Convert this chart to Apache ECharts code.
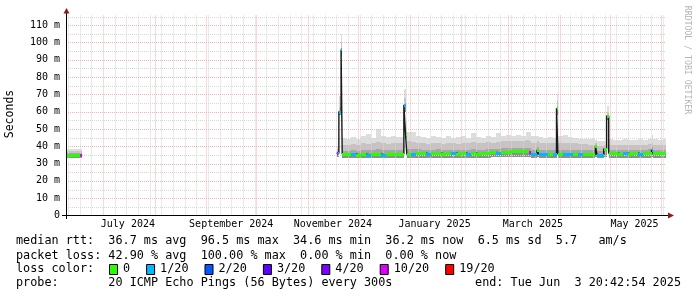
<!DOCTYPE html>
<html><head><meta charset="utf-8">
<script src="https://cdn.jsdelivr.net/npm/echarts@6/dist/echarts.min.js"></script>
<style>html,body{margin:0;padding:0;background:#fff}#c{width:697px;height:297px}</style>
</head><body><div id="c"></div>
<script>
// ---- data ----
const xStart = '2024-06-08 20:42:54';
const xEnd   = '2025-06-03 20:42:54';
const times = [
 '2024-06-09 08','2024-06-12 00','2024-06-15 00','2024-06-17 08','2024-06-18 12',
 '2024-11-18 06','2024-11-18 20','2024-11-19 14','2024-11-20 22','2024-11-21 14',
 '2024-11-24 00','2024-11-27 00','2024-11-30 00','2024-12-03 00','2024-12-06 00',
 '2024-12-09 00','2024-12-12 00','2024-12-15 00','2024-12-18 00','2024-12-21 00',
 '2024-12-24 00','2024-12-28 14','2024-12-29 14','2024-12-30 08','2025-01-02 00',
 '2025-01-05 00','2025-01-08 00','2025-01-11 00','2025-01-14 00','2025-01-17 00',
 '2025-01-20 00','2025-01-23 00','2025-01-26 00','2025-01-29 00','2025-02-01 00',
 '2025-02-04 00','2025-02-07 00','2025-02-10 00','2025-02-13 00','2025-02-16 00',
 '2025-02-19 00','2025-02-22 00','2025-02-25 00','2025-02-28 00','2025-03-03 00',
 '2025-03-06 00','2025-03-09 00','2025-03-12 00','2025-03-13 20','2025-03-15 00',
 '2025-03-18 12','2025-03-19 12','2025-03-22 00','2025-03-25 00','2025-03-28 00',
 '2025-03-30 04','2025-03-31 00','2025-04-03 00','2025-04-06 00','2025-04-09 00',
 '2025-04-12 00','2025-04-15 00','2025-04-18 00','2025-04-22 12','2025-04-23 12',
 '2025-04-27 12','2025-04-29 06','2025-04-30 12','2025-05-03 00','2025-05-06 00',
 '2025-05-09 00','2025-05-12 00','2025-05-15 00','2025-05-18 00','2025-05-21 00',
 '2025-05-24 00','2025-05-26 04','2025-05-27 06','2025-05-30 00','2025-06-02 00',
 '2025-06-03 20'
];
const median = [
 35,35,35,35,null,
 36,36,60,96,35.5,
 35.5,35.5,35,35.5,35,
 35.5,35.5,35,35.5,35.5,
 35.5,64,47,35.5,35.5,
 36,36,35.5,36,36,
 35.5,36,36,35.5,36,
 35.5,36,35.5,36,36,
 36.5,36,36.5,36.5,37,
 37,37,37,36.5,35.5,
 38,35.5,35.5,35.5,35.5,
 62,35.5,35.5,35.5,35.5,
 35.5,35.5,35.5,40,35,
 38.5,57.5,36,36,35.5,
 36,35.5,36,35.5,36,
 36,38,36,36,36,
 null
];
const lossIdx = [
 0,0,0,5,null,
 5,1,1,1,0,
 0,1,0,0,1,
 0,0,1,0,0,
 0,1,0,0,1,
 0,0,1,0,0,
 0,0,1,0,0,
 1,0,0,0,0,
 0,1,0,0,0,
 0,0,0,5,1,
 0,1,1,0,1,
 0,0,1,1,0,
 1,0,0,0,1,
 0,0,0,0,0,
 1,0,0,1,0,
 0,1,0,0,0,
 null
];
const smokeLo = [
 33.5,33.5,33.5,33.5,null,
 34,34,58,92,33.5,
 33.5,33.5,33.5,33.5,33.5,
 33.5,33.5,33.5,33.5,33.5,
 33.5,60,44,33.5,33.5,
 33.5,33.5,33.5,33.5,33.5,
 33.5,33.5,33.5,33.5,33.5,
 33.5,33.5,33.5,33.5,33.5,
 34,34,34,34,34,
 34,34,34,34,33.5,
 34,33.5,33.5,33.5,33.5,
 58,33.5,33.5,33.5,33.5,
 33.5,33.5,33.5,34,33.5,
 34,55,33.5,33.5,33.5,
 33.5,33.5,33.5,33.5,33.5,
 33.5,34,33.5,33.5,33.5,
 null
];
const smokeIn = [
 36.2,36.2,36.2,36.2,null,
 37,37.5,60.5,97,37.5,
 37.5,38,37.5,38,38,
 38,38.5,38,38,38,
 38,65,48,38.5,38.5,
 38.5,38,38,38,38.5,
 38,38,38,38,38,
 38,38.5,38,38,38.5,
 38.5,38.5,39,39,39,
 39,39,39,39,38,
 39.5,38,38,38,38,
 63,38,38,38,38,
 38,38,38,40.5,37.5,
 39,58,38,38,38,
 38,38,38,38,38,
 38.5,40,38,38,38,
 null
];
const smokeMid = [
 37.3,37.3,37.3,37.3,null,
 38.5,40,63,100,41,
 41,41.5,41,42,41.5,
 42,42.5,42,41.5,42,
 42,68,51,43,42.5,
 42,42,41.5,42,42,
 41.5,42,42,41.5,42,
 42,42.5,42,42,42.5,
 42,42.5,43,43,43,
 43,43,43.5,43,42,
 43,42,42,42,42,
 66,42,42,42,42,
 41.5,41.5,41,42,40,
 41,60,41,41,41,
 41,41,41,41,41,
 41.5,42,41,41,41,
 null
];
const smokeHi = [
 38.2,38.2,38.4,38.2,null,
 40,45,69,105,45,
 44.5,45.5,44.5,46,47,
 45,50,46,45.5,46,
 45.5,73,55,48.5,48,
 46,45.5,45,46,45.5,
 45,46,45,45.5,46,
 45,47.5,45.5,45,46,
 45.5,47.5,46,46.5,46,
 46.5,46,48,48.5,46,
 46,45.5,45,45.5,45,
 70,46,46.5,45.5,45,
 44.5,44,44,43.5,43,
 43,63.5,44,43.5,43.5,
 44,43.5,43.5,44,43.5,
 44.5,46.5,44,43.5,44,
 null
];
const lossColors = ['#26ff00','#00b8ff','#0059ff','#5e00ff','#7e00ff','#dd00ff','#ff0000'];
const lossLabels = ['0','1/20','2/20','3/20','4/20','10/20','19/20'];
const monthLabelDates = ['2024-07-16','2024-09-16','2024-11-16','2025-01-16','2025-03-16','2025-05-16'];
const monthNames = ['January','February','March','April','May','June','July','August','September','October','November','December'];
const yMax = 115.6;
const statLine1 = 'median rtt:  36.7 ms avg  96.5 ms max  34.6 ms min  36.2 ms now  6.5 ms sd  5.7   am/s';
const statLine2 = 'packet loss: 42.90 % avg  100.00 % max  0.00 % min  0.00 % now';
const lossTitle = 'loss color:';
const probeLine = 'probe:       20 ICMP Echo Pings (56 Bytes) every 300s';
const endLine = 'end: Tue Jun  3 20:42:54 2025';
const yTitle = 'Seconds';
const watermark = 'RRDTOOL / TOBI OETIKER';

// ---- helpers ----
function ts(s){
  const m = s.match(/(\d+)-(\d+)-(\d+)(?: (\d+)(?::(\d+))?(?::(\d+))?)?/);
  return Date.UTC(+m[1], +m[2]-1, +m[3], +(m[4]||0), +(m[5]||0), +(m[6]||0));
}
const MONO = 'DejaVu Sans Mono';
const xMin = ts(xStart), xMax = ts(xEnd);

const rows = [];
for (let i = 0; i < times.length - 1; i++) {
  if (median[i] == null) continue;
  rows.push([ts(times[i]), ts(times[i+1]), smokeLo[i], smokeIn[i], smokeMid[i], smokeHi[i], median[i], lossIdx[i]]);
}
const lineData = times.map((t,i) => [ts(t), median[i] == null ? '-' : median[i]]);

// grid positions (calendar based)
const gridRows = [];
for (let y = 2024, m = 6; ; m++) {
  if (m > 11) { m = 0; y++; }
  gridRows.push([Date.UTC(y, m, 1), 0, 0]);
  if (y === 2025 && m === 5) break;
}
for (let d = Date.UTC(2024,5,10); d < xMax; d += 7*86400000) {
  if (new Date(d).getUTCDate() !== 1) gridRows.push([d, 0, 1]);
}
for (let v = 5; v <= 115; v += 5) gridRows.push([xMin, v, v % 10 === 0 ? 2 : 3]);

const chart = echarts.init(document.getElementById('c'), null, {renderer:'canvas'});

// legend graphics
const graphics = [];
const txt = (x, y, s, extra) => Object.assign({type:'text', x, y, silent:true,
  style: Object.assign({text:s, font:'11.8px "DejaVu Sans Mono"', fill:'#000', textVerticalAlign:'middle'}, extra||{})});
graphics.push(txt(16, 241, statLine1));
graphics.push(txt(16, 256, statLine2));
graphics.push(txt(16, 269, lossTitle));
graphics.push(txt(16, 283, probeLine));
graphics.push(txt(681, 283, endLine, {textAlign:'right'}));
let bx = 109;
const cw = 7.1;
lossLabels.forEach((lab, i) => {
  graphics.push({type:'rect', silent:true, shape:{x:bx+0.5, y:264.5, width:8, height:10},
    style:{fill:lossColors[i], stroke:'#000', lineWidth:1}});
  graphics.push(txt(bx+14, 269, lab));
  bx = bx + 14 + lab.length*cw + 16;
});
graphics.push({type:'text', silent:true, x:10, y:114, rotation:Math.PI/2,
  style:{text:yTitle, font:'11.5px "DejaVu Sans Mono"', fill:'#000', textAlign:'center', textVerticalAlign:'middle'}});
graphics.push({type:'text', silent:true, x:687, y:60, rotation:-Math.PI/2,
  style:{text:watermark, font:'8.2px "DejaVu Sans Mono"', fill:'#b4b4b4', textAlign:'center', textVerticalAlign:'middle'}});
// axis lines + arrows
graphics.push({type:'line', silent:true, shape:{x1:66.5,y1:12,x2:66.5,y2:219}, style:{stroke:'#000', lineWidth:1}, z:50});
graphics.push({type:'line', silent:true, shape:{x1:62,y1:215.5,x2:669,y2:215.5}, style:{stroke:'#000', lineWidth:1}, z:50});
graphics.push({type:'polygon', silent:true, shape:{points:[[63.5,13.5],[69.5,13.5],[66.5,8]]}, style:{fill:'#8b1a1a'}, z:51});
graphics.push({type:'polygon', silent:true, shape:{points:[[668,212.5],[668,218.5],[674,215.5]]}, style:{fill:'#8b1a1a'}, z:51});

const option = {
  animation: false,
  backgroundColor: '#fff',
  grid: {left: 66, top: 15.5, width: 600, height: 200, containLabel: false},
  xAxis: {
    type: 'value', min: xMin, max: xMax, scale: true,
    axisLine: {show:false}, axisTick: {show:false}, splitLine: {show:false},
    axisLabel: {
      customValues: monthLabelDates.map(ts),
      formatter: v => { const d = new Date(v); return monthNames[d.getUTCMonth()] + ' ' + d.getUTCFullYear(); },
      fontFamily: MONO, fontSize: 10, color: '#000', margin: 4, hideOverlap: false
    }
  },
  yAxis: {
    type: 'value', min: 0, max: yMax, interval: 10,
    axisLine: {show:false}, axisTick: {show:false}, splitLine: {show:false},
    axisLabel: {
      formatter: v => v === 0 ? '0' : (Math.abs(v % 10) < 1e-6 ? v + ' m' : ''),
      fontFamily: MONO, fontSize: 10, color: '#000', margin: 6
    }
  },
  graphic: graphics,
  series: [
    {
      type: 'custom', coordinateSystem: 'cartesian2d', z: 1, silent: true,
      data: rows, encode: {x: [0,1], y: [2,5]},
      renderItem: (p, api) => {
        const x0 = Math.round(api.coord([api.value(0), 0])[0]);
        const x1 = Math.round(api.coord([api.value(1), 0])[0]);
        const Y = k => Math.round(api.coord([api.value(0), api.value(k)])[1]);
        const lo = Y(2), inn = Y(3), mid = Y(4), hi = Y(5), med = Y(6);
        const w = Math.max(1, x1 - x0);
        return {type:'group', children:[
          {type:'rect', shape:{x:x0, y:hi, width:w, height:lo-hi}, style:{fill:'#dddddd'}},
          {type:'rect', shape:{x:x0, y:mid, width:w, height:med-mid}, style:{fill:'#c4c4c4'}},
          {type:'rect', shape:{x:x0, y:inn, width:w, height:med-inn}, style:{fill:'#a6a6a6'}},
          {type:'rect', shape:{x:x0, y:med, width:w, height:lo-med}, style:{fill:'#8e8e8e'}}
        ]};
      }
    },
    {
      type: 'custom', coordinateSystem: 'cartesian2d', z: 2, silent: true,
      data: gridRows, encode: {x: 0, y: 1},
      renderItem: (p, api) => {
        const cs = p.coordSys;
        const kind = api.value(2);
        const dash = [1, 1];
        if (kind < 2) {
          const x = Math.round(api.coord([api.value(0), 0])[0]) + 0.5;
          return {type:'line', shape:{x1:x, y1:cs.y, x2:x, y2:cs.y+cs.height},
            style:{stroke: kind === 0 ? '#f0b4b4' : '#d6d6d6', lineWidth:1, lineDash:dash}};
        }
        const y = Math.round(api.coord([xMin, api.value(1)])[1]) + 0.5;
        return {type:'line', shape:{x1:cs.x, y1:y, x2:cs.x+cs.width, y2:y},
          style:{stroke: kind === 2 ? '#f0b4b4' : '#d6d6d6', lineWidth:1, lineDash:dash}};
      }
    },
    {
      type: 'line', z: 3, silent: true, data: lineData, step: 'end', showSymbol: false,
      connectNulls: false, lineStyle: {color: '#1a1a1a', width: 1.4}
    },
    {
      type: 'custom', coordinateSystem: 'cartesian2d', z: 4, silent: true,
      data: rows.map(r => [r[0], r[1], r[6], r[7]]), encode: {x: [0,1], y: 2},
      renderItem: (p, api) => {
        const x0 = Math.round(api.coord([api.value(0), 0])[0]);
        const x1 = Math.round(api.coord([api.value(1), 0])[0]);
        const y = Math.round(api.coord([api.value(0), api.value(2)])[1]) + 0.5;
        return {type:'line', shape:{x1:x0, y1:y, x2:Math.max(x1, x0+1), y2:y},
          style:{stroke: lossColors[api.value(3)], lineWidth: 3}};
      }
    }
  ]
};
chart.setOption(option);
</script>
</body></html>
